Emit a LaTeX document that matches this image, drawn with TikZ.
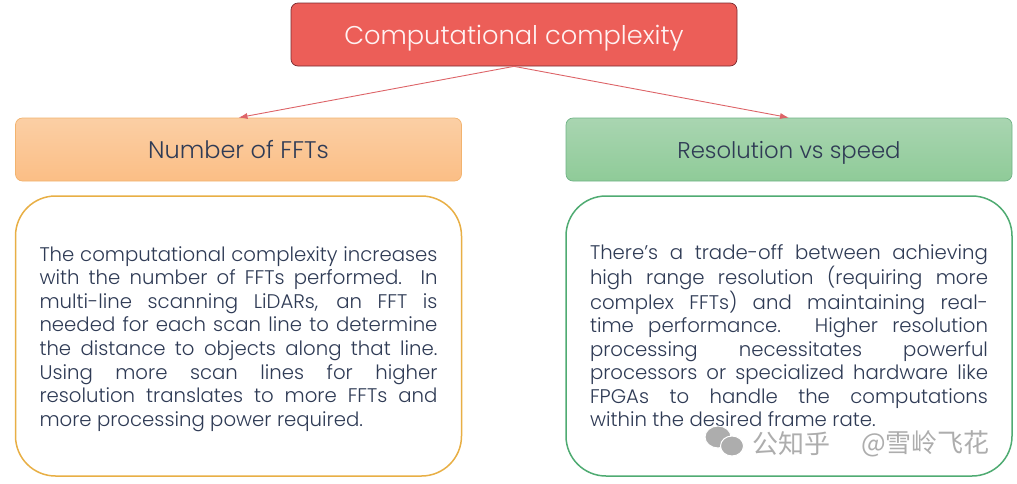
\documentclass[tikz,border=0pt]{standalone}
\usepackage{fontspec}
\setmainfont{Poppins}[UprightFont=* Light,BoldFont=* Medium]
\newfontfamily\cjk{Noto Sans CJK SC}
\usetikzlibrary{arrows.meta}
\definecolor{txtdark}{HTML}{2F3B55}
\definecolor{redfill}{HTML}{EC5E58}
\definecolor{redline}{HTML}{7A2A30}
\definecolor{arrowred}{HTML}{DD6468}
\definecolor{orline}{HTML}{F2B36E}
\definecolor{ortop}{HTML}{FBCFA5}
\definecolor{orbot}{HTML}{FBBE85}
\definecolor{grline}{HTML}{6FB386}
\definecolor{grtop}{HTML}{A9D5B1}
\definecolor{grbot}{HTML}{8FCB98}
\definecolor{bigor}{HTML}{E8AF45}
\definecolor{biggr}{HTML}{4FAB72}
\tikzset{
  x=1pt,y=-1pt,
  headbox/.style={draw,rounded corners=7pt,minimum width=446pt,minimum height=63pt,inner sep=0pt,line width=0.7pt,text=txtdark,text height=20pt,text depth=2pt},
  orangebox/.style={headbox,draw=orline,top color=ortop,bottom color=orbot},
  greenbox/.style={headbox,draw=grline,top color=grtop,bottom color=grbot},
  bigbox/.style={draw,fill=white,rounded corners=40pt,minimum width=446pt,minimum height=280pt,line width=1.5pt},
  para/.style={align=justify,text width=398pt,inner sep=0pt,font=\fontsize{19.7}{23.55}\selectfont,text=txtdark},
  link/.style={draw=arrowred,line width=0.9pt,-{Latex[length=9pt,width=6pt]}},
  wm/.style={text=black!32,font=\cjk\fontsize{26}{28}\selectfont,inner sep=0pt,anchor=west},
  wmdot/.style={fill=black!32,draw=white,line width=1pt}
}
\begin{document}
\begin{tikzpicture}
\useasboundingbox (0,0) rectangle (1017,483);
\node[headbox,fill=redfill,draw=redline,text=white!95!red,text height=22pt,font=\fontsize{25.7}{29}\selectfont] (top) at (514,34.5) {Computational complexity};
\node[orangebox,font=\fontsize{24}{27}\selectfont] (fft) at (238.5,149.5) {Number of FFTs};
\node[greenbox,font=\fontsize{22.8}{27}\selectfont] (res) at (789,149.5) {Resolution vs speed};
\draw[link] (top.south) -- (fft.north);
\draw[link] (top.south) -- (res.north);
\node[bigbox,draw=bigor] (fftbox) at (238.5,336) {};
\node[bigbox,draw=biggr] (resbox) at (789,336) {};
\node[para] (ffttext) at (238.5,339) {The computational complexity increases\linebreak with the number of FFTs performed. In\linebreak multi-line scanning LiDARs, an FFT is\linebreak needed for each scan line to determine\linebreak the distance to objects along that line.\linebreak Using more scan lines for higher\linebreak resolution translates to more FFTs and\linebreak more processing power required.};
\node[para] (restext) at (789,336) {There's a trade-off between achieving\linebreak high range resolution (requiring more\linebreak complex FFTs) and maintaining real-\linebreak time performance. Higher resolution\linebreak processing necessitates powerful\linebreak processors or specialized hardware like\linebreak FPGAs to handle the computations\linebreak within the desired frame rate.};
\fill[wmdot] (718,437) ellipse (13pt and 11pt);
\fill[wmdot] (732,446) ellipse (11.5pt and 10pt);
\node[wm] (wmtext) at (752,444) {公知乎};
\node[wm,anchor=east] (wmname) at (990,444) {@雪岭飞花};
\end{tikzpicture}
\end{document}
